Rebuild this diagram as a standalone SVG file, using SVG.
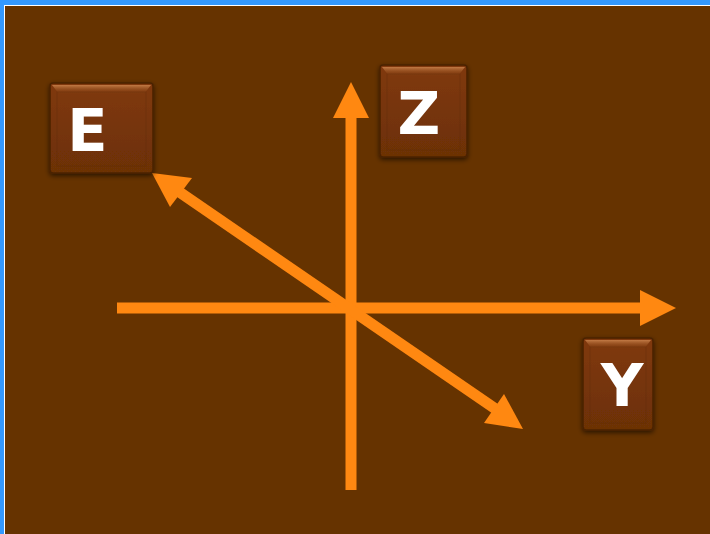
<svg xmlns="http://www.w3.org/2000/svg" width="710" height="534" viewBox="0 0 710 534">
<defs>
<linearGradient id="face" x1="0" y1="0" x2="0" y2="1">
<stop offset="0" stop-color="#80390a"/>
<stop offset="1" stop-color="#6c3006"/>
</linearGradient>
<linearGradient id="hi" x1="0" y1="0" x2="0" y2="1">
<stop offset="0" stop-color="#c27a45"/>
<stop offset="1" stop-color="#8a4412" stop-opacity="0"/>
</linearGradient>
<filter id="sh" x="-20%" y="-20%" width="140%" height="140%">
<feGaussianBlur in="SourceAlpha" stdDeviation="2.5"/>
<feOffset dx="0" dy="2" result="b"/>
<feComponentTransfer><feFuncA type="linear" slope="0.6"/></feComponentTransfer>
<feMerge><feMergeNode/><feMergeNode in="SourceGraphic"/></feMerge>
</filter>
</defs>
<style>
.box{fill:url(#face);stroke:#4a2204;stroke-width:1.5;filter:url(#sh)}
.hl{fill:url(#hi)}
.inner{fill:none;stroke:#5a2a06;stroke-width:1;opacity:0.3}
.lbl{font-family:"DejaVu Sans","Liberation Sans",sans-serif;font-weight:bold;font-size:59px;fill:#ffffff}
.ax{stroke:#ff8811;stroke-width:11;fill:none}
.hd{fill:#ff8811}
</style>
<rect x="0" y="0" width="710" height="534" fill="#3399ff"/>
<rect x="4" y="5" width="706" height="529" fill="#ffffff"/>
<rect x="5" y="6" width="705" height="528" fill="#663300"/>
<g id="connectors">
<line class="ax" x1="351" y1="490" x2="351" y2="112"/>
<polygon class="hd" points="351,82 333,118 369,118"/>
<line class="ax" x1="117" y1="308" x2="642" y2="308"/>
<polygon class="hd" points="676,308 640,290 640,326"/>
<line class="ax" x1="175" y1="189" x2="500" y2="412"/>
<polygon class="hd" points="152,173 192,178 170,207"/>
<polygon class="hd" points="523,429 504,394 484,423"/>
</g>
<g id="node-E">
<rect class="box" x="50" y="83" width="103" height="90" rx="3"/>
<path class="hl" d="M52,85 H151 L144,94 H59 Z"/>
<rect class="inner" x="57" y="92" width="89" height="74"/>
<text class="lbl" x="87.5" y="151" text-anchor="middle">E</text>
</g>
<g id="node-Z">
<rect class="box" x="380" y="65" width="87" height="92" rx="3"/>
<path class="hl" d="M382,67 H465 L458,76 H389 Z"/>
<rect class="inner" x="387" y="74" width="73" height="76"/>
<text class="lbl" x="419" y="134" text-anchor="middle">Z</text>
</g>
<g id="node-Y">
<rect class="box" x="583" y="338" width="70" height="92" rx="3"/>
<path class="hl" d="M585,340 H651 L644,349 H592 Z"/>
<rect class="inner" x="590" y="347" width="56" height="76"/>
<text class="lbl" x="622" y="406" text-anchor="middle">Y</text>
</g>
</svg>
